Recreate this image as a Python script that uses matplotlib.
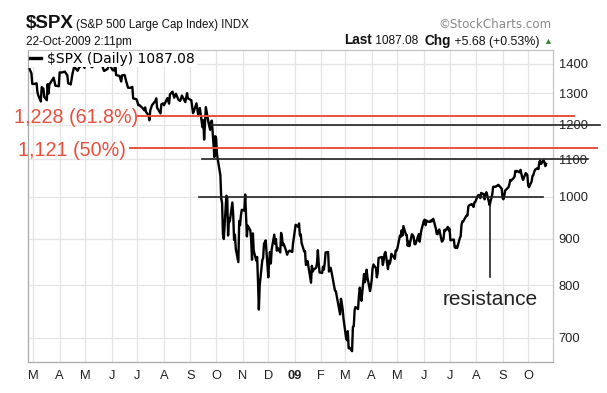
import matplotlib
matplotlib.use('Agg')
import matplotlib.pyplot as plt
import pandas as pd
from matplotlib.ticker import NullLocator, FixedFormatter
from matplotlib.transforms import blended_transform_factory

# daily closes
dates = [
    '2008-02-26', '2008-02-28', '2008-02-29', '2008-03-03', '2008-03-05', '2008-03-06', '2008-03-07', '2008-03-10',
    '2008-03-11', '2008-03-13', '2008-03-14', '2008-03-17', '2008-03-18', '2008-03-19', '2008-03-20', '2008-03-25',
    '2008-03-27', '2008-03-31', '2008-04-01', '2008-04-04', '2008-04-07', '2008-04-10', '2008-04-11', '2008-04-14',
    '2008-04-16', '2008-04-18', '2008-04-22', '2008-04-24', '2008-04-28', '2008-04-30', '2008-05-02', '2008-05-05',
    '2008-05-07', '2008-05-09', '2008-05-13', '2008-05-15', '2008-05-19', '2008-05-21', '2008-05-23', '2008-05-27',
    '2008-05-29', '2008-06-02', '2008-06-04', '2008-06-05', '2008-06-06', '2008-06-10', '2008-06-12', '2008-06-13',
    '2008-06-16', '2008-06-18', '2008-06-20', '2008-06-23', '2008-06-25', '2008-06-26', '2008-06-30', '2008-07-02',
    '2008-07-03', '2008-07-07', '2008-07-09', '2008-07-10', '2008-07-11', '2008-07-14', '2008-07-15', '2008-07-16',
    '2008-07-18', '2008-07-22', '2008-07-23', '2008-07-24', '2008-07-28', '2008-07-29', '2008-07-31', '2008-08-01',
    '2008-08-05', '2008-08-07', '2008-08-08', '2008-08-11', '2008-08-13', '2008-08-15', '2008-08-18', '2008-08-20',
    '2008-08-22', '2008-08-26', '2008-08-28', '2008-08-29', '2008-09-02', '2008-09-04', '2008-09-05', '2008-09-08',
    '2008-09-10', '2008-09-12', '2008-09-15', '2008-09-16', '2008-09-17', '2008-09-18', '2008-09-19', '2008-09-22',
    '2008-09-24', '2008-09-25', '2008-09-26', '2008-09-29', '2008-09-30', '2008-10-01', '2008-10-02', '2008-10-03',
    '2008-10-06', '2008-10-07', '2008-10-08', '2008-10-09', '2008-10-10', '2008-10-13', '2008-10-14', '2008-10-15',
    '2008-10-16', '2008-10-17', '2008-10-20', '2008-10-21', '2008-10-22', '2008-10-23', '2008-10-24', '2008-10-27',
    '2008-10-28', '2008-10-29', '2008-10-30', '2008-10-31', '2008-11-03', '2008-11-04', '2008-11-05', '2008-11-06',
    '2008-11-07', '2008-11-10', '2008-11-11', '2008-11-12', '2008-11-13', '2008-11-14', '2008-11-17', '2008-11-18',
    '2008-11-19', '2008-11-20', '2008-11-21', '2008-11-24', '2008-11-25', '2008-11-26', '2008-11-28', '2008-12-01',
    '2008-12-02', '2008-12-03', '2008-12-04', '2008-12-05', '2008-12-08', '2008-12-09', '2008-12-10', '2008-12-11',
    '2008-12-12', '2008-12-15', '2008-12-16', '2008-12-17', '2008-12-18', '2008-12-19', '2008-12-22', '2008-12-23',
    '2008-12-24', '2008-12-26', '2008-12-29', '2008-12-30', '2008-12-31',
    '2009-01-02', '2009-01-05', '2009-01-06', '2009-01-07', '2009-01-08', '2009-01-09', '2009-01-12', '2009-01-13',
    '2009-01-14', '2009-01-15', '2009-01-16', '2009-01-20', '2009-01-21', '2009-01-22', '2009-01-23', '2009-01-26',
    '2009-01-27', '2009-01-28', '2009-01-29', '2009-01-30', '2009-02-02', '2009-02-03', '2009-02-04', '2009-02-05',
    '2009-02-06', '2009-02-09', '2009-02-10', '2009-02-11', '2009-02-12', '2009-02-13', '2009-02-17', '2009-02-18',
    '2009-02-19', '2009-02-20', '2009-02-23', '2009-02-24', '2009-02-25', '2009-02-26', '2009-02-27', '2009-03-02',
    '2009-03-03', '2009-03-04', '2009-03-05', '2009-03-06', '2009-03-09', '2009-03-10', '2009-03-11', '2009-03-12',
    '2009-03-13', '2009-03-16', '2009-03-17', '2009-03-18', '2009-03-19', '2009-03-20', '2009-03-23', '2009-03-24',
    '2009-03-25', '2009-03-26', '2009-03-27', '2009-03-30', '2009-03-31', '2009-04-01', '2009-04-02', '2009-04-03',
    '2009-04-06', '2009-04-07', '2009-04-08', '2009-04-09', '2009-04-13', '2009-04-14', '2009-04-15', '2009-04-16',
    '2009-04-17', '2009-04-20', '2009-04-21', '2009-04-22', '2009-04-23', '2009-04-24', '2009-04-27', '2009-04-28',
    '2009-04-29', '2009-04-30', '2009-05-01', '2009-05-04', '2009-05-05', '2009-05-06', '2009-05-07', '2009-05-08',
    '2009-05-11', '2009-05-12', '2009-05-13', '2009-05-14', '2009-05-15', '2009-05-18', '2009-05-19', '2009-05-20',
    '2009-05-21', '2009-05-22', '2009-05-26', '2009-05-27', '2009-05-28', '2009-05-29', '2009-06-01', '2009-06-02',
    '2009-06-03', '2009-06-04', '2009-06-05', '2009-06-08', '2009-06-09', '2009-06-10', '2009-06-11', '2009-06-12',
    '2009-06-15', '2009-06-16', '2009-06-17', '2009-06-18', '2009-06-19', '2009-06-22', '2009-06-23', '2009-06-24',
    '2009-06-25', '2009-06-26', '2009-06-29', '2009-06-30', '2009-07-01', '2009-07-02', '2009-07-06', '2009-07-07',
    '2009-07-08', '2009-07-09', '2009-07-10', '2009-07-13', '2009-07-14', '2009-07-15', '2009-07-16', '2009-07-17',
    '2009-07-20', '2009-07-21', '2009-07-22', '2009-07-23', '2009-07-24', '2009-07-27', '2009-07-28', '2009-07-29',
    '2009-07-30', '2009-07-31', '2009-08-03', '2009-08-04', '2009-08-05', '2009-08-06', '2009-08-07', '2009-08-10',
    '2009-08-11', '2009-08-12', '2009-08-13', '2009-08-14', '2009-08-17', '2009-08-18', '2009-08-19', '2009-08-20',
    '2009-08-21', '2009-08-24', '2009-08-25', '2009-08-26', '2009-08-27', '2009-08-28', '2009-08-31', '2009-09-01',
    '2009-09-02', '2009-09-03', '2009-09-04', '2009-09-08', '2009-09-09', '2009-09-10', '2009-09-11', '2009-09-14',
    '2009-09-15', '2009-09-16', '2009-09-17', '2009-09-18', '2009-09-21', '2009-09-22', '2009-09-23', '2009-09-24',
    '2009-09-25', '2009-09-28', '2009-09-29', '2009-09-30', '2009-10-01', '2009-10-02', '2009-10-05', '2009-10-06',
    '2009-10-07', '2009-10-08', '2009-10-09', '2009-10-12', '2009-10-13', '2009-10-14', '2009-10-15', '2009-10-16',
    '2009-10-19', '2009-10-20', '2009-10-21', '2009-10-22',
]
closes = [
    1381, 1367, 1331, 1331, 1333, 1304, 1293, 1273,
    1320, 1315, 1288, 1277, 1330, 1299, 1329, 1352,
    1325, 1323, 1370, 1370, 1373, 1360, 1333, 1329,
    1365, 1390, 1376, 1388, 1397, 1386, 1414, 1408,
    1393, 1388, 1404, 1424, 1427, 1391, 1375, 1382,
    1399, 1378, 1377, 1404, 1361, 1358, 1339, 1360,
    1361, 1338, 1318, 1318, 1321, 1283, 1280, 1261,
    1262, 1252, 1245, 1254, 1240, 1229, 1214, 1245,
    1261, 1275, 1283, 1253, 1235, 1264, 1267, 1261,
    1284, 1266, 1296, 1305, 1285, 1298, 1278, 1275,
    1292, 1271, 1300, 1283, 1277, 1236, 1242, 1267,
    1232, 1252, 1193, 1214, 1156, 1206, 1255, 1208,
    1185, 1209, 1213, 1106, 1166, 1161, 1115, 1099,
    1056, 996, 985, 910, 899, 1003, 998, 907,
    946, 940, 986, 956, 897, 909, 877, 848,
    941, 931, 954, 968, 966, 1006, 953, 905,
    930, 919, 898, 853, 912, 873, 851, 859,
    807, 752, 800, 852, 857, 888, 896, 816,
    848, 870, 845, 876, 909, 888, 899, 873,
    879, 869, 913, 904, 885, 888, 872, 864,
    869, 873, 870, 890, 903,
    932, 927, 935, 907, 910, 890, 871, 872,
    842, 843, 850, 805, 840, 828, 832, 836,
    846, 874, 845, 826, 825, 838, 832, 845,
    869, 870, 828, 833, 836, 827, 789, 788,
    779, 770, 743, 773, 764, 752, 735, 700,
    696, 712, 682, 683, 677, 720, 721, 751,
    757, 753, 778, 795, 784, 769, 823, 806,
    814, 832, 816, 788, 798, 811, 835, 843,
    835, 816, 826, 857, 859, 842, 852, 866,
    870, 833, 851, 844, 851, 866, 858, 855,
    873, 873, 878, 907, 904, 919, 907, 929,
    909, 908, 884, 893, 883, 910, 908, 904,
    888, 887, 910, 893, 906, 919, 942, 944,
    931, 942, 940, 939, 942, 940, 944, 946,
    923, 911, 910, 918, 921, 893, 895, 900,
    920, 918, 927, 919, 923, 896, 898, 881,
    879, 882, 879, 901, 905, 932, 940, 940,
    951, 954, 954, 976, 979, 982, 979, 975,
    986, 987, 1003, 1005, 1002, 997, 1010, 1007,
    994, 1005, 1012, 1005, 979, 990, 997, 1007,
    1026, 1026, 1028, 1029, 1031, 1029, 1021, 998,
    994, 1003, 1016, 1025, 1033, 1044, 1042, 1049,
    1053, 1068, 1066, 1068, 1064, 1071, 1060, 1050,
    1044, 1062, 1060, 1057, 1029, 1025, 1040, 1054,
    1057, 1065, 1071, 1076, 1073, 1092, 1096, 1087,
    1097, 1091, 1081, 1087,
]

y_ticks = [700, 800, 900, 1000, 1100, 1200, 1300, 1400]
month_labels = ['M', 'A', 'M', 'J', 'J', 'A', 'S', 'O', 'N', 'D', '09',
                'F', 'M', 'A', 'M', 'J', 'J', 'A', 'S', 'O']
month_starts = pd.date_range('2008-03-01', '2009-10-01', freq='MS')

fib_labels = ['1,228 (61.8%)', '1,121 (50%)']
fib_levels = [1228, 1131]          # where the red lines are drawn
level_lines = [1200, 1100, 1000]   # black horizontal lines
resistance_date = '2009-08-17'
resistance_span = [979, 817]

RED = '#e8503e'
INK = '#222222'

fig = plt.figure(figsize=(6.07, 3.93), dpi=100)
ax = fig.add_axes([28 / 607, 31 / 393, 525 / 607, 312 / 393])

price, = ax.plot(pd.to_datetime(dates), closes, color='black', lw=1.7, zorder=3)

ax.set_yscale('log')
ax.set_ylim(658.7, 1450)
ax.set_yticks(y_ticks)
ax.yaxis.set_minor_locator(NullLocator())
ax.yaxis.set_major_formatter(FixedFormatter([str(v) for v in y_ticks]))
ax.yaxis.tick_right()
ax.set_xlim(pd.Timestamp('2008-02-24'), pd.Timestamp('2009-10-30'))
ax.set_xticks(month_starts)
ax.set_xticklabels(month_labels)
ax.tick_params(axis='both', length=0, labelsize=9.3, labelcolor='#222222')
ax.tick_params(axis='x', pad=6)
ax.tick_params(axis='y', pad=4)
for lab in ax.get_xticklabels() + ax.get_yticklabels():
    lab.set_family('Liberation Sans')
for lab in ax.get_xticklabels():
    if lab.get_text() == '09':
        lab.set_fontweight('bold')

ax.grid(True, color='#e4e4e4', lw=0.9)
ax.set_axisbelow(True)
for s in ax.spines.values():
    s.set_color('#c4c4c4')
    s.set_linewidth(0.9)
ax.spines['bottom'].set_color('#aaaaaa')
ax.spines['left'].set_color('#aaaaaa')

leg = ax.legend([price], [r'\$SPX (Daily) 1087.08'], loc='upper left', bbox_to_anchor=(0.0, 1.0),
                handlelength=0.8, handletextpad=0.45, borderpad=0.1, borderaxespad=0.05,
                fancybox=False, framealpha=1, edgecolor='none',
                prop={'family': 'DejaVu Sans', 'size': 10})
leg.get_lines()[0].set_linewidth(2.4)
leg.set_zorder(5)

# annotation lines drawn in axes-fraction x, data y
trans = blended_transform_factory(ax.transAxes, ax.transData)
fib_x = [(0.2095, 1.04), (0.194, 1.084)]
fib_text_x = [0.2095, 0.1867]
for lvl, lab, (x0, x1), tx in zip(fib_levels, fib_labels, fib_x, fib_text_x):
    ax.plot([x0, x1], [lvl, lvl], transform=trans, color=RED, lw=1.4, clip_on=False, zorder=6)
    ax.text(tx, lvl, lab, transform=trans, ha='right', va='center_baseline', color=RED,
            fontsize=14.2, family='Liberation Sans', clip_on=False)

level_x = [(0.349, 1.09), (0.331, 1.067), (0.326, 0.981)]
for lvl, (x0, x1) in zip(level_lines, level_x):
    ax.plot([x0, x1], [lvl, lvl], transform=trans, color=INK, lw=1.2, clip_on=False, zorder=6)

rd = pd.Timestamp(resistance_date)
ax.plot([rd, rd], resistance_span, color=INK, lw=1.2, zorder=6)
ax.text(rd, 772, 'resistance', ha='center', va='center', fontsize=15,
        family='Liberation Sans', color=INK)

# header
H = 393
fig.text(26 / 607, (H - 28) / H, r'\$SPX', fontsize=13.5, fontweight='bold',
         family='Liberation Sans', va='baseline', color='#111111')
fig.text(76 / 607, (H - 28) / H, '(S&P 500 Large Cap Index) INDX', fontsize=8.3,
         family='Liberation Sans', va='baseline', color='#111111')
fig.text(26 / 607, (H - 44.5) / H, '22-Oct-2009 2:11pm', fontsize=8.4,
         family='Liberation Sans', va='baseline', color='#111111')
fig.text(552 / 607, (H - 28) / H, '\u00a9StockCharts.com', fontsize=8.6,
         family='DejaVu Sans', va='baseline', ha='right', color='#888888')

renderer = fig.canvas.get_renderer()
pieces = [('Last', 'bold', 9.8, '#111111'), (' 1087.08  ', 'normal', 8.6, '#111111'),
          ('Chg', 'bold', 9.8, '#111111'), (' +5.68 (+0.53%) ', 'normal', 8.9, '#111111'),
          ('\u25b2', 'normal', 6.5, '#3b8a3b')]
x = 552.0
for txt, w, sz, col in reversed(pieces):
    t = fig.text(x / 607, (H - 44.5) / H, txt, fontsize=sz, fontweight=w, ha='right',
                 va='baseline', color=col, family=['Liberation Sans', 'DejaVu Sans'])
    x -= t.get_window_extent(renderer).width

fig.savefig('out.png', dpi=100)
